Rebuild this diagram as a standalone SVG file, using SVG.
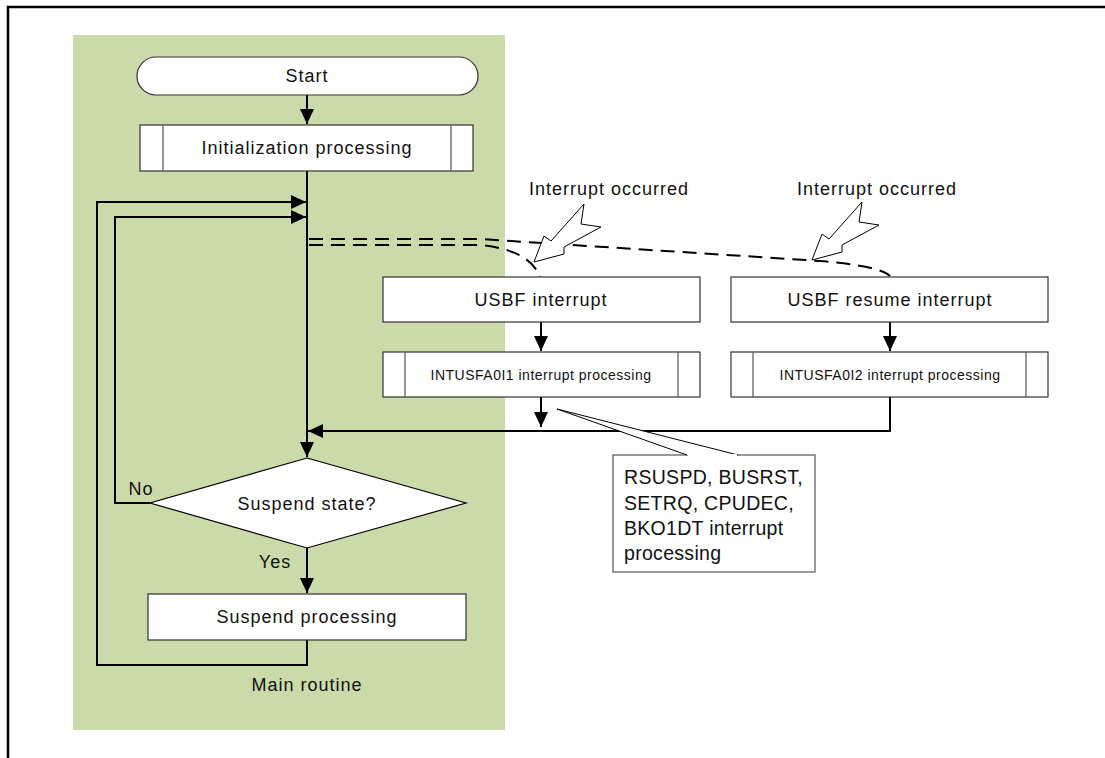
<svg xmlns="http://www.w3.org/2000/svg" width="1105" height="758" viewBox="0 0 1105 758">
  <style>
    .txt { font-family: "Liberation Sans", Arial, sans-serif; fill: #111; text-anchor: middle; }
    .lg { font-size: 18px; letter-spacing: 1px; }
    .sm { font-size: 14px; letter-spacing: 0.5px; }
    .note { font-size: 19.5px; letter-spacing: 0.3px; text-anchor: start; }
    .box { fill: #fff; stroke: #333; stroke-width: 1.2; }
    .sub { fill: none; stroke: #555; stroke-width: 1.2; }
    .flow { fill: none; stroke: #000; stroke-width: 2; }
    .dash { fill: none; stroke: #000; stroke-width: 2; stroke-dasharray: 14 8; }
    .bolt { fill: #fff; stroke: #000; stroke-width: 1; stroke-linejoin: miter; }
  </style>
  <defs>
    <marker id="arr" viewBox="0 0 15 14" refX="15" refY="7" markerWidth="15" markerHeight="14" markerUnits="userSpaceOnUse" orient="auto">
      <path d="M0,0 L15,7 L0,14 Z" fill="#000"/>
    </marker>
    <!-- zig-zag "event" arrow, drawn from its upper end -->
    <path id="boltShape" d="M0,0 L-3,20 L17,23 L-20,43 L-20,50 L-50,58 L-40,32 L-33,37 Z"/>
  </defs>

  <rect x="0" y="0" width="1105" height="758" fill="#fff"/>
  <!-- outer frame -->
  <path d="M8,758 L8,7 L1105,7" fill="none" stroke="#000" stroke-width="2.5"/>

  <!-- main routine area -->
  <rect x="73" y="35" width="432" height="695" fill="#CADAA9"/>

  <!-- connectors -->
  <g id="connectors">
    <path class="flow" d="M307,95 L307,124" marker-end="url(#arr)"/>
    <path class="flow" d="M307,171 L307,457" marker-end="url(#arr)"/>
    <path class="flow" d="M150,503 L115,503 L115,217 L306,217" marker-end="url(#arr)"/>
    <path class="flow" d="M307,640 L307,665 L97,665 L97,202 L306,202" marker-end="url(#arr)"/>
    <path class="flow" d="M307,548 L307,593" marker-end="url(#arr)"/>
    <path class="flow" d="M541,322 L541,351" marker-end="url(#arr)"/>
    <path class="flow" d="M890,322 L890,351" marker-end="url(#arr)"/>
    <path class="flow" d="M541,397 L541,427" marker-end="url(#arr)"/>
    <path class="flow" d="M890,397 L890,431 L308,431" marker-end="url(#arr)"/>
    <!-- interrupt entry paths -->
    <path class="dash" d="M309,245 L480,245 Q530,250 540,277"/>
    <path class="dash" d="M309,239 L480,239 L820,261 Q880,266 890,276"/>
  </g>

  <!-- interrupt event marks -->
  <g id="event1">
    <use href="#boltShape" class="bolt" transform="translate(584,204)"/>
    <text class="txt lg" x="609" y="195">Interrupt occurred</text>
  </g>
  <g id="event2">
    <use href="#boltShape" class="bolt" transform="translate(862,202)"/>
    <text class="txt lg" x="877" y="195">Interrupt occurred</text>
  </g>

  <g id="start">
    <rect x="137" y="57" width="341" height="38" rx="19" ry="19" class="box"/>
    <text class="txt lg" x="307" y="82">Start</text>
  </g>

  <g id="init">
    <rect x="140" y="125" width="333" height="46" class="box"/>
    <path class="sub" d="M163,125 V171 M451,125 V171"/>
    <text class="txt lg" x="307" y="154">Initialization processing</text>
  </g>

  <g id="usbf">
    <rect x="383" y="277" width="317" height="45" class="box"/>
    <text class="txt lg" x="541" y="306">USBF interrupt</text>
  </g>

  <g id="usbfResume">
    <rect x="731" y="277" width="317" height="45" class="box"/>
    <text class="txt lg" x="890" y="306">USBF resume interrupt</text>
  </g>

  <g id="intusfa0i1">
    <rect x="383" y="352" width="317" height="45" class="box"/>
    <path class="sub" d="M405,352 V397 M678,352 V397"/>
    <text class="txt sm" x="541" y="380">INTUSFA0I1 interrupt processing</text>
  </g>

  <g id="intusfa0i2">
    <rect x="731" y="352" width="317" height="45" class="box"/>
    <path class="sub" d="M753,352 V397 M1026,352 V397"/>
    <text class="txt sm" x="890" y="380">INTUSFA0I2 interrupt processing</text>
  </g>

  <g id="decision">
    <path d="M307,458 L466,503 L307,548 L150,503 Z" fill="#fff" stroke="#000" stroke-width="1.2"/>
    <text class="txt lg" x="307" y="510">Suspend state?</text>
    <text class="txt lg" x="141" y="495">No</text>
    <text class="txt lg" x="275" y="568">Yes</text>
  </g>

  <g id="suspend">
    <rect x="148" y="594" width="318" height="46" class="box"/>
    <text class="txt lg" x="307" y="623">Suspend processing</text>
  </g>

  <g id="mainLabel">
    <text class="txt lg" x="307" y="691">Main routine</text>
  </g>

  <g id="note">
    <rect x="613" y="455" width="202" height="117" fill="#fff" stroke="#555" stroke-width="1.2"/>
    <path d="M687,455 L557,409 L738,455" fill="#fff" stroke="#000" stroke-width="1"/>
    <path d="M688,455 L737,455" stroke="#fff" stroke-width="2"/>
    <text class="txt note" x="624" y="484">RSUSPD, BUSRST,</text>
    <text class="txt note" x="624" y="510">SETRQ, CPUDEC,</text>
    <text class="txt note" x="624" y="535">BKO1DT interrupt</text>
    <text class="txt note" x="624" y="560">processing</text>
  </g>
</svg>
